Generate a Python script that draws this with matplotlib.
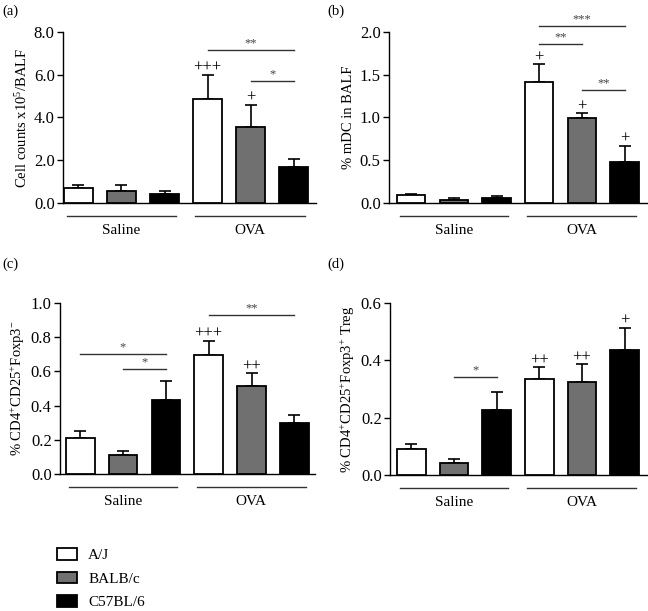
import numpy as np
import matplotlib
matplotlib.use("Agg")
import matplotlib.pyplot as plt

plt.rcParams['font.family'] = ['Liberation Serif', 'DejaVu Serif']
plt.rcParams['font.size'] = 10

strains = ["A/J", "BALB/c", "C57BL/6"]
groups = ["Saline", "OVA"]
colors = ["white", "#707070", "black"]

# Panel (a)
a_vals = [0.70, 0.56, 0.42, 4.85, 3.56, 1.70]
a_errs = [0.16, 0.27, 0.14, 1.15, 1.04, 0.37]
# Panel (b)
b_vals = [0.09, 0.04, 0.06, 1.41, 0.99, 0.48]
b_errs = [0.02, 0.02, 0.025, 0.21, 0.06, 0.19]
# Panel (c)
c_vals = [0.209, 0.111, 0.435, 0.694, 0.517, 0.296]
c_errs = [0.044, 0.025, 0.107, 0.086, 0.072, 0.049]
# Panel (d)
d_vals = [0.089, 0.041, 0.228, 0.334, 0.324, 0.437]
d_errs = [0.019, 0.015, 0.060, 0.042, 0.062, 0.077]

a_plus = ["", "", "", "+++", "+", ""]
b_plus = ["", "", "", "+", "+", "+"]
c_plus = ["", "", "", "+++", "++", ""]
d_plus = ["", "", "", "++", "++", "+"]

# significance brackets: (bar i, bar j, y, label)
a_sig = [(3, 5, 7.14, "**"), (4, 5, 5.71, "*")]
b_sig = [(3, 5, 2.07, "***"), (3, 4, 1.86, "**"), (4, 5, 1.32, "**")]
c_sig = [(0, 2, 0.70, "*"), (1, 2, 0.614, "*"), (3, 5, 0.93, "**")]
d_sig = [(1, 2, 0.343, "*")]

fig = plt.figure(figsize=(6.48, 6.11), dpi=100)

specs = [
    dict(rect=[0.0972, 0.6678, 0.3904, 0.2799], xlim=(-0.36, 5.52), ylim=(0, 8.0),
         ticks=np.arange(0, 8.01, 2.0), vals=a_vals, errs=a_errs, plus=a_plus, sig=a_sig,
         ylabel="Cell counts x10$\\mathregular{^{5}}$/BALF", label="(a)", lab_xy=(0.003, 0.982)),
    dict(rect=[0.6003, 0.6678, 0.3997, 0.2799], xlim=(-0.52, 5.55), ylim=(0, 2.0),
         ticks=np.arange(0, 2.01, 0.5), vals=b_vals, errs=b_errs, plus=b_plus, sig=b_sig,
         ylabel="% mDC in BALF", label="(b)", lab_xy=(0.505, 0.982)),
    dict(rect=[0.0926, 0.2242, 0.3935, 0.2799], xlim=(-0.47, 5.48), ylim=(0, 1.0),
         ticks=np.arange(0, 1.01, 0.2), vals=c_vals, errs=c_errs, plus=c_plus, sig=c_sig,
         ylabel="% CD4$\\mathregular{^{+}}$CD25$\\mathregular{^{+}}$Foxp3$\\mathregular{^{-}}$",
         label="(c)", lab_xy=(0.003, 0.568)),
    dict(rect=[0.6019, 0.2226, 0.3981, 0.2815], xlim=(-0.50, 5.55), ylim=(0, 0.6),
         ticks=np.arange(0, 0.61, 0.2), vals=d_vals, errs=d_errs, plus=d_plus, sig=d_sig,
         ylabel="% CD4$\\mathregular{^{+}}$CD25$\\mathregular{^{+}}$Foxp3$\\mathregular{^{+}}$ Treg",
         label="(d)", lab_xy=(0.505, 0.568)),
]

x = np.arange(6)
bar_colors = colors * 2
handles = None
for s in specs:
    ax = fig.add_axes(s["rect"])
    bars = ax.bar(x, s["vals"], width=0.67, color=bar_colors, edgecolor="black",
                  linewidth=1.3, zorder=3)
    if handles is None:
        handles = [bars[0], bars[1], bars[2]]
    ax.errorbar(x, s["vals"], yerr=[np.zeros(6), s["errs"]], fmt="none", ecolor="black",
                elinewidth=1.2, capsize=4.6, capthick=1.2, zorder=2)
    ax.set_xlim(*s["xlim"])
    ax.set_ylim(*s["ylim"])
    ax.set_yticks(s["ticks"])
    ax.set_yticklabels([f"{t:.1f}" for t in s["ticks"]], fontsize=12)
    ax.set_xticks([])
    for sp in ["top", "right"]:
        ax.spines[sp].set_visible(False)
    ax.spines["left"].set_linewidth(1.0)
    ax.spines["bottom"].set_linewidth(1.0)
    ax.tick_params(axis="y", direction="out", length=4, width=1.0, pad=2)
    ax.set_ylabel(s["ylabel"], fontsize=10.5, labelpad=3)
    # plus signs
    for xi, v, e, p in zip(x, s["vals"], s["errs"], s["plus"]):
        if p:
            ax.annotate(p, (xi, v + e), xytext=(0, -1), textcoords="offset points",
                        ha="center", va="bottom", fontsize=12, annotation_clip=False)
    # significance brackets
    for i, j, y, lab in s["sig"]:
        ax.plot([x[i], x[j]], [y, y], color="#333333", lw=1.0, clip_on=False)
        ax.annotate(lab, ((x[i] + x[j]) / 2, y), xytext=(0, 0.5), textcoords="offset points",
                    ha="center", va="bottom", fontsize=9, color="#444444",
                    annotation_clip=False)
    # group lines
    tr = ax.get_xaxis_transform()
    for (g0, g1), g in zip([(-0.27, 2.27), (2.72, 5.27)], groups):
        ax.plot([g0, g1], [-0.075, -0.075], transform=tr, color="#333333", lw=1.0,
                clip_on=False)
        ax.text((g0 + g1) / 2, -0.16, g, transform=tr, ha="center", va="center",
                fontsize=11)
    fig.text(s["lab_xy"][0], s["lab_xy"][1], s["label"], ha="left", va="center", fontsize=10.5)

fig.legend(handles, strains, loc="upper left", bbox_to_anchor=(57 / 648, 1 - 548 / 611),
           frameon=False, borderpad=0, borderaxespad=0, handlelength=1.3,
           handleheight=0.8, handletextpad=0.75, labelspacing=0.62, fontsize=11)

fig.savefig("out.png", dpi=100)
